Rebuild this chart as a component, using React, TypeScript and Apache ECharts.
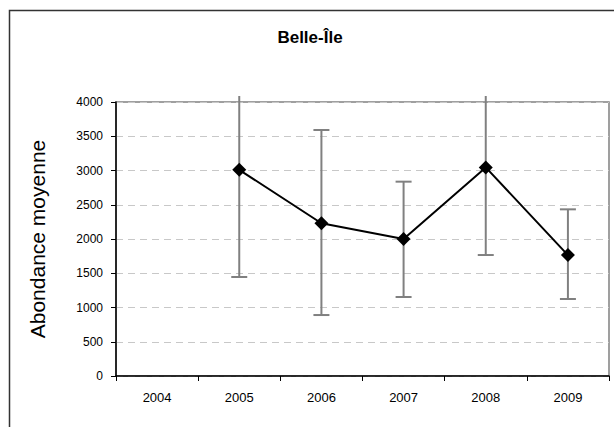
import React, { useEffect, useRef } from "react";
import * as echarts from "echarts";

// Annual mean abundance with error-bar bounds
const years = ["2004", "2005", "2006", "2007", "2008", "2009"];
const means: (number | null)[] = [null, 3010, 2230, 2000, 3045, 1765];
const lows: (number | null)[] = [null, 1445, 890, 1153, 1766, 1124];
const highs: (number | null)[] = [null, 4575, 3591, 2837, 4325, 2433];
const yTicks = { min: 0, max: 4000, interval: 500 };

const FONT = "'Liberation Sans', Arial, sans-serif";

export default function App() {
  const ref = useRef<HTMLDivElement>(null);

  useEffect(() => {
    if (!ref.current) return;
    const chart = echarts.init(ref.current, undefined, { renderer: "svg" });

    const errData = years
      .map((_, i) => [i, lows[i], highs[i]])
      .filter((d) => d[1] != null && d[2] != null);

    chart.setOption({
      animation: false,
      backgroundColor: "#ffffff",
      graphic: [
        {
          type: "rect",
          shape: { x: 9.5, y: 10.5, width: 700, height: 500 },
          style: { fill: "none", stroke: "#333", lineWidth: 1.5 },
          silent: true,
          z: -1,
        },
        {
          type: "text",
          x: 310,
          y: 37,
          style: {
            text: "Belle-Île",
            font: `bold 17px ${FONT}`,
            fill: "#000",
            textAlign: "center",
            textVerticalAlign: "middle",
          },
          silent: true,
        },
      ],
      grid: {
        left: 116,
        top: 102,
        width: 493,
        height: 274,
        show: true,
        borderColor: "#808080",
        borderWidth: 1.5,
        backgroundColor: "transparent",
      },
      xAxis: {
        type: "category",
        data: years,
        boundaryGap: true,
        axisLine: { lineStyle: { color: "#000", width: 1.5 } },
        axisTick: { show: true, length: 5, lineStyle: { color: "#000" }, alignWithLabel: false },
        axisLabel: { fontFamily: FONT, fontSize: 13, color: "#000", margin: 15 },
        splitLine: { show: false },
      },
      yAxis: {
        type: "value",
        min: yTicks.min,
        max: yTicks.max,
        interval: yTicks.interval,
        name: "Abondance moyenne",
        nameLocation: "middle",
        nameRotate: 90,
        nameGap: 68,
        nameTextStyle: { fontFamily: FONT, fontSize: 21, color: "#000" },
        axisLine: { show: true, lineStyle: { color: "#000", width: 1.5 } },
        axisTick: { show: true, length: 5, lineStyle: { color: "#000" } },
        axisLabel: {
          fontFamily: FONT,
          fontSize: 12,
          color: "#000",
          margin: 13,
          formatter: (v: number) => String(v),
        },
        splitLine: { show: true, lineStyle: { color: "#c8c8c8", type: [7, 5], width: 1 } },
      },
      series: [
        {
          type: "custom",
          z: 1,
          data: errData,
          renderItem: (params: any, api: any) => {
            const x = api.value(0);
            const lo = api.coord([x, api.value(1)]);
            const hi = api.coord([x, api.value(2)]);
            const topLimit = params.coordSys.y - 6;
            const topY = Math.max(hi[1], topLimit);
            const clipped = hi[1] < topLimit;
            const cap = 8;
            const style = { stroke: "#808080", lineWidth: 2 };
            const children: any[] = [
              { type: "line", shape: { x1: lo[0], y1: lo[1], x2: lo[0], y2: topY }, style },
              { type: "line", shape: { x1: lo[0] - cap, y1: lo[1], x2: lo[0] + cap, y2: lo[1] }, style },
            ];
            if (!clipped) {
              children.push({
                type: "line",
                shape: { x1: hi[0] - cap, y1: hi[1], x2: hi[0] + cap, y2: hi[1] },
                style,
              });
            }
            return { type: "group", children };
          },
        },
        {
          type: "line",
          z: 3,
          data: means,
          symbol: "diamond",
          symbolSize: 14,
          itemStyle: { color: "#000" },
          lineStyle: { color: "#000", width: 2 },
          connectNulls: false,
        },
      ],
    });

    return () => chart.dispose();
  }, []);

  return (
    <div
      ref={ref}
      style={{ position: "fixed", left: 0, top: 0, width: 614, height: 427 }}
    />
  );
}
